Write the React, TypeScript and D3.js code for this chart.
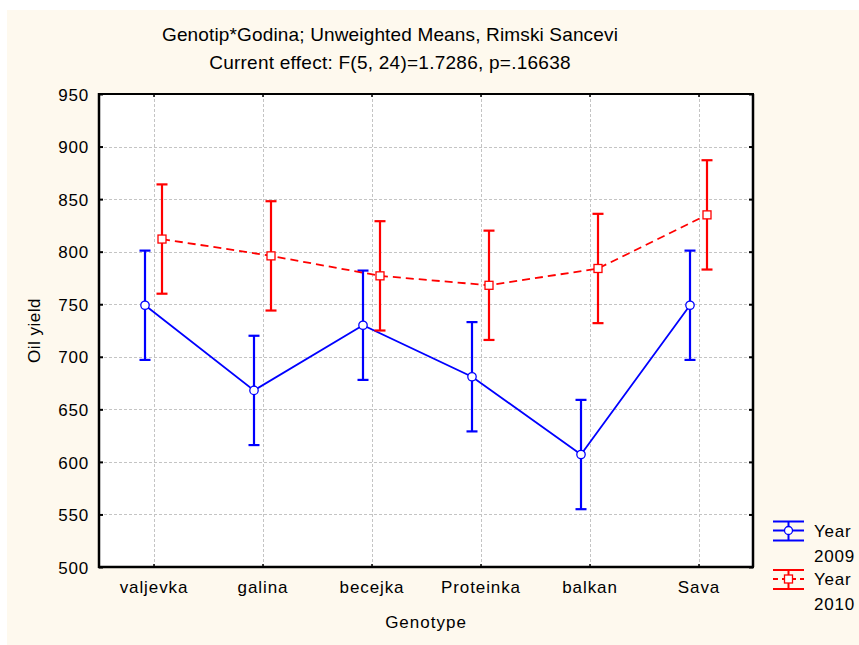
import React, { useEffect, useRef } from 'react';
import * as d3 from 'd3';

const genotypes = ['valjevka', 'galina', 'becejka', 'Proteinka', 'balkan', 'Sava'];
const mean2009 = [749, 668, 730, 681, 607, 749];
const ci2009 = [52, 52, 52, 52, 52, 52];
const mean2010 = [812, 796, 777, 768, 784, 835];
const ci2010 = [52, 52, 52, 52, 52, 52];
const yTicks = [500, 550, 600, 650, 700, 750, 800, 850, 900, 950];
const seriesNames = ['Year\n2009', 'Year\n2010'];

const W = 859;
const H = 645;
const FONT = 'Arial, "Liberation Sans", sans-serif';

const App = () => {
  const svgRef = useRef<SVGSVGElement>(null);

  useEffect(() => {
    document.body.style.margin = '0';
    const svg = d3.select(svgRef.current);
    svg.selectAll('*').remove();

    const left = 99, right = 753, top = 94, bottom = 567;

    const x = d3.scalePoint<string>().domain(genotypes).range([left, right]).padding(0.5);
    const y = d3.scaleLinear().domain([500, 950]).range([bottom, top]);

    svg.append('rect').attr('x', 0).attr('y', 0).attr('width', W).attr('height', H).attr('fill', '#ffffff');
    svg.append('rect').attr('x', 7).attr('y', 10).attr('width', W - 7).attr('height', H - 10).attr('fill', '#fef9ee');
    svg.append('rect').attr('x', left).attr('y', top).attr('width', right - left).attr('height', bottom - top).attr('fill', '#ffffff');

    // grid
    const grid = svg.append('g').attr('stroke', '#c4c4c4').attr('stroke-width', 1).attr('stroke-dasharray', '3,2');
    grid.selectAll('line.h').data(yTicks.slice(1, -1)).join('line')
      .attr('x1', left).attr('x2', right)
      .attr('y1', (d) => Math.round(y(d)) + 0.5).attr('y2', (d) => Math.round(y(d)) + 0.5);
    grid.selectAll('line.v').data(genotypes).join('line')
      .attr('x1', (d) => Math.round(x(d)!) + 0.5).attr('x2', (d) => Math.round(x(d)!) + 0.5)
      .attr('y1', top).attr('y2', bottom);

    // axes
    const yAxis = svg.append('g').attr('transform', `translate(${left},0)`)
      .call(d3.axisLeft(y).tickValues(yTicks).tickSize(-4).tickPadding(10));
    yAxis.select('.domain').remove();
    yAxis.selectAll('line').attr('stroke', '#000').attr('stroke-width', 2);
    yAxis.selectAll('text').attr('font-family', FONT).attr('font-size', 17).attr('fill', '#000')
      .attr('letter-spacing', 0.8).attr('dy', '0.36em');

    const rAxis = svg.append('g').attr('transform', `translate(${right},0)`)
      .call(d3.axisRight(y).tickValues(yTicks).tickSize(-4).tickFormat(() => ''));
    rAxis.select('.domain').remove();
    rAxis.selectAll('line').attr('stroke', '#000').attr('stroke-width', 2);

    const xAxis = svg.append('g').attr('transform', `translate(0,${bottom})`)
      .call(d3.axisBottom(x).tickSize(-3).tickPadding(14));
    xAxis.select('.domain').remove();
    xAxis.selectAll('line').attr('stroke', '#000').attr('stroke-width', 1.5);
    xAxis.selectAll('text').attr('font-family', FONT).attr('font-size', 17).attr('fill', '#000')
      .attr('letter-spacing', 0.9);

    const tAxis = svg.append('g').attr('transform', `translate(0,${top})`)
      .call(d3.axisTop(x).tickSize(-3).tickFormat(() => ''));
    tAxis.select('.domain').remove();
    tAxis.selectAll('line').attr('stroke', '#000').attr('stroke-width', 1.5);

    // frame
    svg.append('line').attr('x1', left).attr('x2', right + 1).attr('y1', top).attr('y2', top)
      .attr('stroke', '#000').attr('stroke-width', 2);
    svg.append('line').attr('x1', right).attr('x2', right).attr('y1', top).attr('y2', bottom)
      .attr('stroke', '#000').attr('stroke-width', 2.5);
    svg.append('line').attr('x1', left).attr('x2', left).attr('y1', top - 1).attr('y2', bottom + 1)
      .attr('stroke', '#000').attr('stroke-width', 2.5);
    svg.append('line').attr('x1', left - 1).attr('x2', right + 1).attr('y1', bottom).attr('y2', bottom)
      .attr('stroke', '#000').attr('stroke-width', 2.5);

    const series = [
      { means: mean2009, ci: ci2009, color: '#0000ff', dx: -8.5, dash: null, marker: 'circle' },
      { means: mean2010, ci: ci2010, color: '#ff0000', dx: 8.5, dash: '8,5', marker: 'square' },
    ];

    series.forEach((s) => {
      const g = svg.append('g');
      const pts = genotypes.map((name, i) => ({ name, m: s.means[i], c: s.ci[i] }));
      const line = d3.line<{ name: string; m: number }>()
        .x((d) => x(d.name)! + s.dx)
        .y((d) => y(d.m));
      g.append('path').datum(pts).attr('fill', 'none').attr('stroke', s.color)
        .attr('stroke-width', 1.8).attr('stroke-dasharray', s.dash).attr('d', line);

      const eb = g.selectAll('g.eb').data(pts).join('g')
        .attr('stroke', s.color).attr('stroke-width', 2.2);
      eb.append('line')
        .attr('x1', (d) => x(d.name)! + s.dx).attr('x2', (d) => x(d.name)! + s.dx)
        .attr('y1', (d) => y(d.m + d.c)).attr('y2', (d) => y(d.m - d.c));
      [1, -1].forEach((sign) => {
        eb.append('line')
          .attr('x1', (d) => x(d.name)! + s.dx - 5.5).attr('x2', (d) => x(d.name)! + s.dx + 5.5)
          .attr('y1', (d) => y(d.m + sign * d.c)).attr('y2', (d) => y(d.m + sign * d.c));
      });

      if (s.marker === 'circle') {
        g.selectAll('circle').data(pts).join('circle')
          .attr('cx', (d) => x(d.name)! + s.dx).attr('cy', (d) => y(d.m)).attr('r', 4.2)
          .attr('fill', '#fff').attr('stroke', s.color).attr('stroke-width', 1.3);
      } else {
        g.selectAll('rect').data(pts).join('rect')
          .attr('x', (d) => x(d.name)! + s.dx - 4).attr('y', (d) => y(d.m) - 4)
          .attr('width', 8).attr('height', 8)
          .attr('fill', '#fff').attr('stroke', s.color).attr('stroke-width', 1.3);
      }
    });

    // titles
    const t = svg.append('g').attr('font-family', FONT).attr('fill', '#000').attr('text-anchor', 'middle');
    t.append('text').attr('x', 390).attr('y', 41).attr('font-size', 19).attr('letter-spacing', 0.15)
      .text('Genotip*Godina; Unweighted Means, Rimski Sancevi');
    t.append('text').attr('x', 390).attr('y', 69).attr('font-size', 19).attr('letter-spacing', 0.25)
      .text('Current effect: F(5, 24)=1.7286, p=.16638');
    t.append('text').attr('x', (left + right) / 2).attr('y', 628).attr('font-size', 17).attr('letter-spacing', 1)
      .text('Genotype');
    t.append('text').attr('transform', `translate(40,${(top + bottom) / 2}) rotate(-90)`)
      .attr('font-size', 17).attr('letter-spacing', 0.5).text('Oil yield');

    // legend
    const lg = svg.append('g');
    series.forEach((s, i) => {
      const oy = 521.5 + i * 48.5;
      const cx = 788.5;
      const g = lg.append('g').attr('stroke', s.color).attr('stroke-width', 2);
      g.append('line').attr('x1', 773).attr('x2', 804).attr('y1', oy).attr('y2', oy);
      g.append('line').attr('x1', 773).attr('x2', 804).attr('y1', oy + 19).attr('y2', oy + 19);
      g.append('line').attr('x1', cx).attr('x2', cx).attr('y1', oy).attr('y2', oy + 19);
      g.append('line').attr('x1', 773).attr('x2', 804).attr('y1', oy + 9).attr('y2', oy + 9)
        .attr('stroke-dasharray', s.dash ? '5,4' : null);
      if (s.marker === 'circle') {
        g.append('circle').attr('cx', cx).attr('cy', oy + 9).attr('r', 4).attr('fill', '#fff').attr('stroke-width', 1.3);
      } else {
        g.append('rect').attr('x', cx - 4).attr('y', oy + 5).attr('width', 8).attr('height', 8)
          .attr('fill', '#fff').attr('stroke-width', 1.3);
      }
      const txt = lg.append('text').attr('font-family', FONT).attr('font-size', 17).attr('fill', '#000')
        .attr('letter-spacing', 0.8);
      seriesNames[i].split('\n').forEach((part, j) => {
        txt.append('tspan').attr('x', 814).attr('y', oy + 15 + j * 25).text(part);
      });
    });
  }, []);

  return <svg ref={svgRef} width={W} height={H} style={{ display: 'block' }} />;
};

export default App;
